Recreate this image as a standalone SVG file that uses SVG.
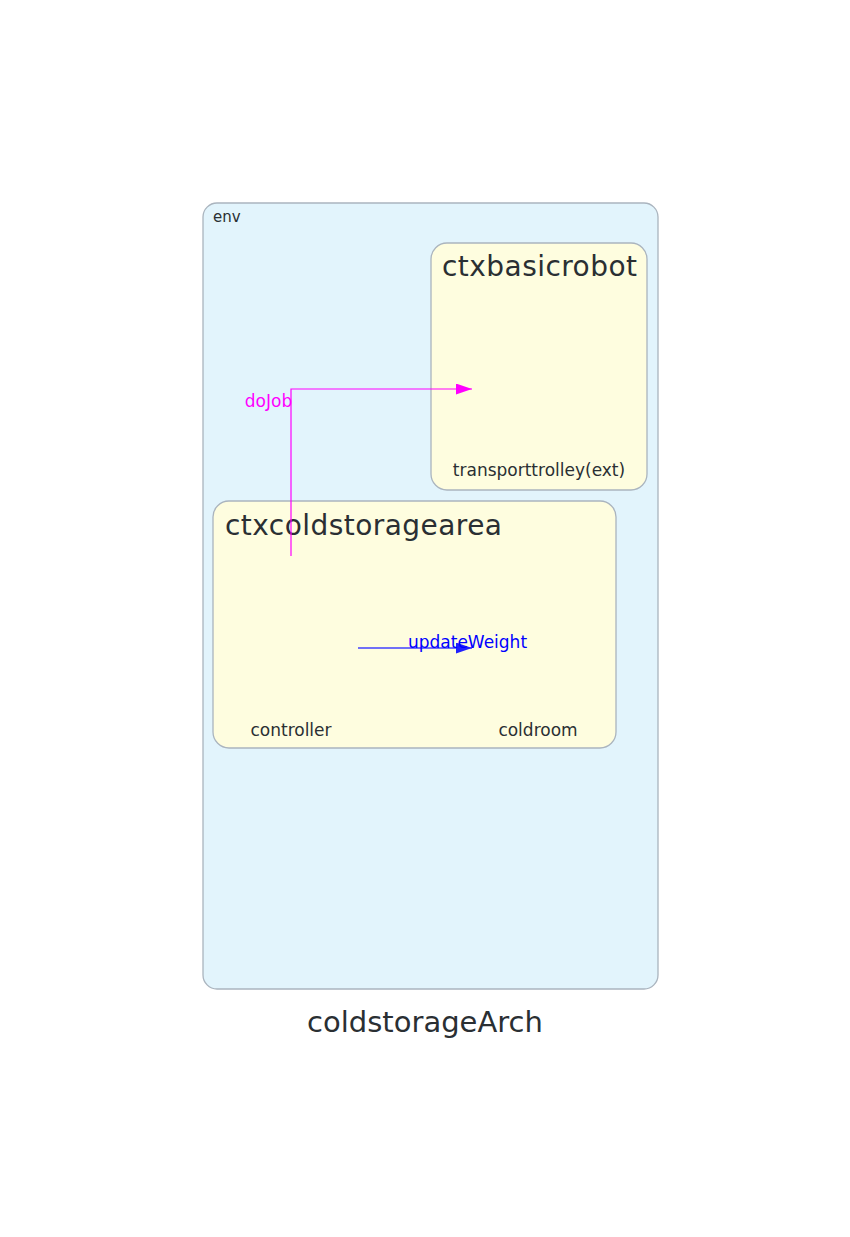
<svg xmlns="http://www.w3.org/2000/svg" width="850" height="1237" viewBox="0 0 850 1237">
<defs>
<style>
.cluster{stroke:#aab4be;stroke-width:1.3}
.env{fill:#e2f4fc}
.ctx{fill:#fefddf}
.t{font-family:"DejaVu Sans",Verdana,sans-serif;fill:#2a2f33}
.big{font-size:28px}
.lbl{font-size:17px;text-anchor:middle}
</style>
<marker id="am" viewBox="0 0 16 11" refX="16" refY="5.5" markerWidth="16" markerHeight="11" markerUnits="userSpaceOnUse" orient="auto"><path d="M0,0 L16,5.5 L0,11 z" fill="#ff00ff"/></marker>
<marker id="ab" viewBox="0 0 16 11" refX="16" refY="5.5" markerWidth="16" markerHeight="11" markerUnits="userSpaceOnUse" orient="auto"><path d="M0,0 L16,5.5 L0,11 z" fill="#2020ff"/></marker>
</defs>
<rect width="850" height="1237" fill="#ffffff"/>
<g id="env">
<rect class="cluster env" x="203" y="203" width="455" height="786" rx="14"/>
<text class="t" x="213" y="222" font-size="15" fill="#3a3f44">env</text>
</g>
<g id="ctxbasicrobot">
<rect class="cluster ctx" x="431" y="243" width="216" height="247" rx="16"/>
<text class="t big" x="442" y="276" textLength="195">ctxbasicrobot</text>
</g>
<g id="transporttrolley">
<text class="t lbl" x="539" y="476">transporttrolley(ext)</text>
</g>
<g id="ctxcoldstoragearea">
<rect class="cluster ctx" x="213" y="501" width="403" height="247" rx="16"/>
<text class="t big" x="225" y="535" textLength="277">ctxcoldstoragearea</text>
</g>
<g id="controller">
<text class="t lbl" x="291" y="736">controller</text>
</g>
<g id="coldroom">
<text class="t lbl" x="538" y="736">coldroom</text>
</g>
<g id="connectors">
<path d="M291,556 V389 H472" fill="none" stroke="#ff00ff" stroke-width="1.2" marker-end="url(#am)"/>
<text x="268.5" y="407" font-family="DejaVu Sans,sans-serif" font-size="17" fill="#ff00ff" text-anchor="middle">doJob</text>
<path d="M358,648 H472" fill="none" stroke="#4040ff" stroke-width="1.5" marker-end="url(#ab)"/>
<text x="467.5" y="648" font-family="DejaVu Sans,sans-serif" font-size="17" fill="#0000ff" text-anchor="middle">updateWeight</text>
</g>
<text class="t" x="425" y="1032" font-size="29" text-anchor="middle">coldstorageArch</text>
</svg>
